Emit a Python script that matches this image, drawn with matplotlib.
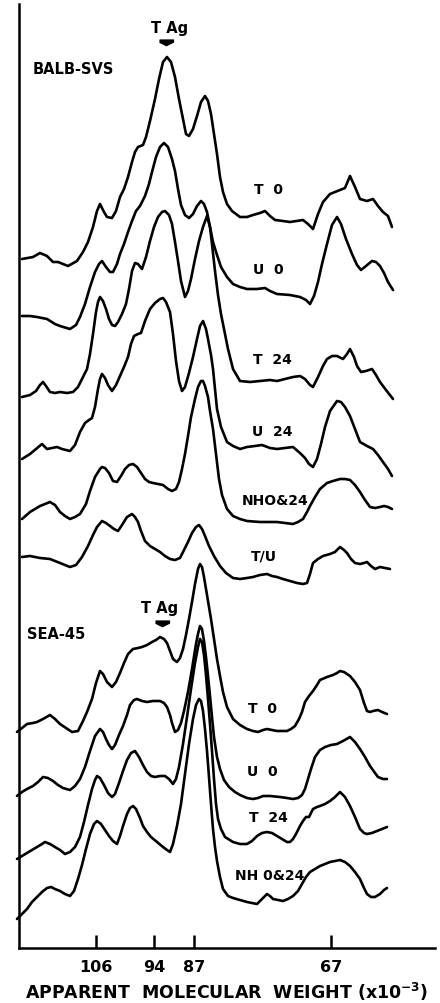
import numpy as np
import matplotlib
matplotlib.use("Agg")
import matplotlib.pyplot as plt

# ------------------------------------------------------------
# Densitometer traces
# x = position along the gel scan, y = trace height (screen units, top = 0)
# ------------------------------------------------------------

# BALB-SVS
balb_t0 = [(22,260),(33,258),(40,254),(47,257),(53,263),(58,263),(68,267),(77,262),(83,253),
           (88,243),(93,228),(97,212),(100,205),(104,213),(107,218),(112,219),(116,212),(120,198),
           (124,190),(128,178),(132,163),(135,153),(138,148),(143,146),(146,138),(150,122),(155,100),
           (159,80),(163,63),(167,58),(171,63),(175,78),(179,100),(182,115),(186,135),(189,137),
           (193,130),(197,117),(201,103),(205,97),(208,102),(211,115),(214,135),(217,155),(220,178),
           (223,193),(227,205),(232,212),(240,218),(247,218),(253,216),(260,214),(265,212),(270,217),
           (275,221),(283,222),(290,223),(303,221),(308,225),(313,230),(318,215),(323,203),(330,195),
           (340,191),(345,189),(350,177),(355,188),(360,200),(367,202),(373,200),(378,207),(383,213),
           (388,217),(392,228)]

balb_u0 = [(22,317),(30,317),(37,318),(47,320),(55,325),(60,327),(70,330),(76,326),(80,318),
           (85,305),(90,288),(95,273),(99,265),(102,262),(106,268),(110,273),(113,273),(117,265),
           (120,255),(124,245),(128,233),(132,222),(136,212),(140,207),(145,197),(149,185),(152,173),
           (156,158),(160,148),(164,144),(168,148),(172,160),(175,172),(178,190),(181,206),(185,216),
           (189,219),(193,215),(197,207),(201,202),(204,205),(207,213),(210,228),(213,243),(217,256),
           (221,268),(227,278),(233,285),(240,288),(247,290),(257,290),(265,289),(270,292),(277,295),
           (290,296),(300,298),(306,301),(310,305),(314,297),(318,283),(322,265),(327,245),(332,226),
           (337,218),(341,225),(346,240),(352,255),(357,266),(361,271),(366,267),(372,262),(376,263),
           (380,267),(384,274),(388,283),(393,291)]

balb_t24 = [(22,398),(30,396),(36,392),(40,386),(43,383),(46,387),(50,393),(55,394),(60,393),
            (67,394),(73,393),(78,388),(83,378),(87,370),(90,355),(93,335),(96,313),(98,303),
            (100,298),(103,302),(106,310),(109,320),(112,326),(115,327),(118,323),(122,315),(126,305),
            (129,290),(132,272),(135,264),(138,265),(142,270),(146,258),(150,242),(154,228),(158,218),
            (162,213),(165,212),(169,216),(172,225),(175,243),(178,262),(181,282),(185,298),(188,292),
            (191,280),(195,260),(199,242),(203,228),(207,217),(210,228),(212,245),(215,272),(218,296),
            (221,315),(224,330),(228,350),(233,370),(240,382),(250,383),(260,382),(270,381),(277,382),
            (285,380),(293,378),(300,377),(305,380),(310,386),(313,388),(318,378),(323,367),(327,360),
            (332,357),(337,357),(343,360),(347,355),(350,350),(354,358),(357,367),(361,373),(366,372),
            (372,370),(376,376),(380,383),(386,391),(393,400)]

balb_u24 = [(22,460),(30,455),(36,450),(42,445),(47,450),(52,449),(57,448),(62,450),(70,452),
            (75,446),(80,433),(85,424),(89,421),(92,419),(95,408),(98,390),(100,380),(102,375),
            (105,379),(108,386),(112,392),(116,386),(120,377),(124,368),(128,358),(131,345),(134,337),
            (138,335),(141,334),(145,322),(150,310),(155,304),(160,300),(163,299),(166,303),(170,313),
            (173,335),(176,362),(179,382),(182,392),(185,388),(189,374),(193,358),(197,340),(200,327),
            (203,322),(206,330),(208,340),(211,356),(213,370),(215,390),(217,410),(221,428),(227,443),
            (233,447),(240,450),(247,448),(255,447),(262,446),(270,449),(277,450),(285,449),(293,448),
            (300,454),(305,459),(309,465),(313,468),(317,460),(321,445),(325,428),(330,412),(337,402),
            (341,403),(345,408),(350,417),(355,430),(360,443),(367,447),(373,450),(378,456),(383,463),
            (388,470),(392,477)]

balb_nh = [(22,520),(30,513),(40,507),(50,503),(55,506),(60,513),(65,517),(70,520),(75,518),
           (80,515),(86,505),(90,492),(95,478),(100,470),(102,468),(105,469),(109,474),(113,482),
           (117,483),(121,477),(125,470),(129,466),(133,465),(137,468),(141,474),(145,480),(149,483),
           (153,484),(158,485),(163,486),(168,490),(172,492),(176,490),(179,483),(182,470),(185,455),
           (188,437),(191,418),(195,400),(198,388),(201,382),(203,382),(205,387),(208,398),(210,412),
           (213,430),(216,455),(219,480),(222,496),(227,510),(233,517),(240,520),(247,522),(260,523),
           (270,523),(277,523),(285,524),(293,525),(298,523),(303,520),(307,513),(310,507),(315,498),
           (320,490),(327,484),(333,482),(340,480),(345,480),(350,481),(355,486),(360,493),(365,501),
           (370,508),(375,509),(380,508),(384,507),(388,508),(392,510)]

balb_tu = [(22,558),(30,557),(40,559),(50,560),(60,564),(70,568),(76,566),(82,558),(88,547),
           (93,536),(97,528),(102,522),(106,524),(110,527),(114,530),(118,532),(122,526),(127,518),
           (132,515),(135,518),(138,523),(141,532),(145,542),(150,547),(155,550),(160,553),(165,557),
           (170,560),(175,561),(180,559),(184,551),(188,543),(192,534),(196,528),(199,526),(202,530),
           (205,537),(209,547),(214,557),(220,567),(226,574),(233,579),(240,580),(247,579),(253,578),
           (260,576),(267,575),(272,577),(277,578),(283,580),(290,582),(297,584),(303,585),(307,584),
           (310,575),(313,564),(318,560),(323,557),(330,555),(335,553),(340,548),(344,551),(347,554),
           (351,560),(355,564),(360,565),(364,564),(367,563),(371,567),(375,570),(380,568),(385,569),
           (390,570)]

# SEA-45
sea_t0 = [(17,733),(22,729),(27,725),(33,724),(37,723),(43,720),(50,716),(55,720),(60,725),
          (66,729),(72,733),(78,732),(83,722),(87,713),(92,700),(96,684),(100,672),(103,675),
          (107,683),(112,688),(116,683),(120,674),(124,664),(128,655),(133,650),(138,649),(142,648),
          (147,646),(152,643),(156,641),(160,638),(164,640),(167,644),(170,652),(173,660),(177,663),
          (180,659),(183,650),(186,636),(189,620),(192,603),(195,585),(198,570),(200,565),(202,568),
          (204,578),(206,590),(208,602),(211,620),(214,640),(217,660),(220,677),(223,693),(227,708),
          (233,720),(240,726),(247,730),(253,732),(258,733),(263,731),(267,730),(272,731),(277,732),
          (283,732),(287,732),(291,730),(295,727),(299,720),(302,713),(305,703),(309,697),(313,692),
          (317,686),(320,681),(327,678),(333,676),(337,674),(340,672),(344,673),(350,677),(355,683),
          (360,691),(364,704),(367,712),(370,713),(373,712),(378,711),(382,713),(387,715)]

sea_u0 = [(17,797),(22,793),(27,790),(33,787),(38,783),(43,778),(48,779),(53,782),(58,786),
          (63,789),(70,791),(75,787),(80,780),(85,768),(90,752),(95,737),(100,730),(103,733),
          (106,740),(109,746),(112,750),(115,746),(119,736),(123,727),(127,716),(130,706),(134,701),
          (137,700),(142,702),(147,703),(153,702),(160,702),(164,704),(167,708),(170,716),(172,724),
          (175,733),(178,731),(181,724),(184,712),(188,693),(192,670),(196,645),(198,635),(200,627),
          (202,630),(204,642),(206,658),(208,677),(210,697),(212,718),(214,738),(217,758),(220,770),
          (224,781),(229,788),(235,793),(240,796),(247,799),(253,800),(258,799),(263,797),(270,797),
          (280,798),(287,799),(293,800),(298,799),(302,796),(305,790),(308,780),(311,770),(315,758),
          (320,751),(325,748),(331,746),(337,745),(343,742),(350,738),(355,743),(360,750),(365,758),
          (370,767),(375,774),(378,778),(383,780),(387,780)]

sea_t24 = [(17,860),(22,857),(27,854),(32,851),(37,848),(42,845),(45,843),(50,845),(55,848),
           (60,851),(65,855),(70,853),(75,848),(80,838),(84,823),(88,806),(92,790),(95,781),
           (97,777),(100,779),(104,786),(108,794),(112,798),(115,795),(119,784),(123,772),(127,761),
           (131,754),(135,752),(139,758),(143,766),(147,773),(151,777),(155,778),(160,777),(165,777),
           (169,780),(173,785),(176,780),(179,768),(183,745),(187,718),(191,690),(195,664),(198,648),
           (200,640),(202,643),(204,656),(206,676),(208,700),(210,725),(212,752),(214,780),(216,805),
           (218,820),(221,830),(225,838),(233,843),(240,845),(247,845),(252,842),(257,837),(262,834),
           (267,833),(272,834),(277,837),(282,840),(287,843),(290,843),(293,840),(296,835),(300,827),
           (303,822),(306,818),(309,818),(313,810),(317,808),(320,807),(325,805),(330,802),(335,798),
           (340,793),(345,798),(350,807),(355,818),(360,830),(364,834),(367,835),(372,834),(377,832),
           (382,830),(387,828)]

sea_nh = [(17,920),(22,915),(27,910),(32,903),(37,898),(42,893),(47,889),(51,888),(55,890),
          (60,892),(65,895),(70,897),(74,892),(78,880),(82,866),(86,850),(90,835),(94,825),
          (97,822),(101,825),(105,831),(109,837),(113,842),(117,845),(120,837),(123,827),(127,815),
          (130,809),(133,807),(136,810),(140,819),(143,827),(147,833),(151,838),(157,843),(163,848),
          (167,851),(170,853),(173,845),(177,827),(181,805),(185,775),(189,745),(193,720),(196,706),
          (199,700),(201,702),(203,712),(205,730),(207,752),(209,778),(211,805),(213,830),(215,848),
          (217,862),(220,878),(223,890),(228,897),(233,899),(240,901),(247,903),(252,904),(257,905),
          (262,900),(267,895),(270,897),(273,900),(278,901),(283,902),(288,900),(293,897),(298,892),
          (302,885),(306,878),(310,873),(315,870),(320,867),(325,865),(330,863),(335,862),(340,861),
          (345,863),(350,867),(355,873),(360,880),(364,889),(367,895),(371,898),(375,898),(380,895),
          (384,891),(387,889)]

balb_traces = [balb_t0, balb_u0, balb_t24, balb_u24, balb_nh, balb_tu]
balb_names = ["T  0", "U  0", "T  24", "U  24", "NHO&24", "T/U"]
sea_traces = [sea_t0, sea_u0, sea_t24, sea_nh]
sea_names = ["T  0", "U  0", "T  24", "NH 0&24"]

# molecular weight markers (x10^-3) and their scan positions
mw_labels = ["106", "94", "87", "67"]
mw_pos = [96, 154, 194, 331]

# ------------------------------------------------------------
# Plot
# ------------------------------------------------------------
W, H = 440, 1004
fig = plt.figure(figsize=(W / 100, H / 100), dpi=100)
ax = fig.add_axes([19 / W, 55 / H, (435 - 19) / W, (949 - 5) / H])
ax.set_xlim(19, 435)
ax.set_ylim(949, 5)

bold = dict(family="DejaVu Sans", weight="bold", color="black")

for tr in balb_traces + sea_traces:
    xy = np.array(tr)
    ax.plot(xy[:, 0], xy[:, 1], color="black", lw=1.9, solid_joinstyle="round",
            solid_capstyle="round", clip_on=False)

# trace labels
balb_label_y = [190, 270, 360, 432, 501, 557]
balb_label_x = [268, 268, 272, 272, 275, 264]
for name, lx, ly in zip(balb_names, balb_label_x, balb_label_y):
    ax.text(lx, ly, name, ha="center", va="center", fontsize=10, **bold)

sea_label_y = [709, 772, 818, 876]
sea_label_x = [262, 262, 268, 270]
for name, lx, ly in zip(sea_names, sea_label_x, sea_label_y):
    ax.text(lx, ly, name, ha="center", va="center", fontsize=10, **bold)

# group names and T antigen markers
ax.text(33, 70, "BALB-SVS", ha="left", va="center", fontsize=10.5, **bold)
ax.text(27, 635, "SEA-45", ha="left", va="center", fontsize=10.5, **bold)

arrow = [(-1, 0.35), (1, 0.35), (1, 0.05), (0, -0.45), (-1, 0.05)]
ax.text(170, 29, "T Ag", ha="center", va="center", fontsize=10.5, **bold)
ax.plot([166], [43], marker=arrow, ms=10, color="black", ls="none")
ax.text(160, 609, "T Ag", ha="center", va="center", fontsize=10.5, **bold)
ax.plot([162], [624], marker=arrow, ms=10, color="black", ls="none")

# axes
for s in ["top", "right"]:
    ax.spines[s].set_visible(False)
for s in ["left", "bottom"]:
    ax.spines[s].set_linewidth(1.8)
ax.set_yticks([])
ax.set_xticks(mw_pos)
ax.set_xticklabels(mw_labels)
ax.tick_params(axis="x", direction="in", length=9.5, width=1.8, pad=8, labelsize=11.5)
for lab in ax.get_xticklabels():
    lab.set_fontweight("bold")
    lab.set_family("DejaVu Sans")

ax.set_xlabel(r"APPARENT  MOLECULAR  WEIGHT (x10$^{\mathbf{-3}}$)", fontsize=12.5,
              fontweight="bold", family="DejaVu Sans", labelpad=4)

plt.savefig("out.png", dpi=100)
